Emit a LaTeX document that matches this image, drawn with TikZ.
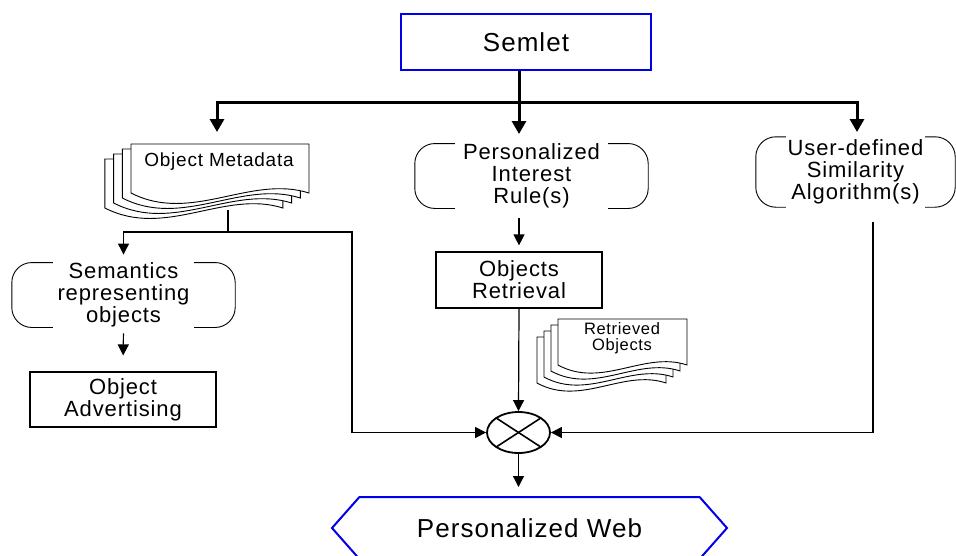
\documentclass[tikz,border=0pt]{standalone}
\usepackage{fontspec}
\setmainfont{Liberation Sans}[LetterSpace=4]
\usetikzlibrary{arrows.meta,shapes.geometric,shapes.symbols,calc}
\definecolor{boxblue}{RGB}{0,0,235}

% one paper sheet with a wavy lower edge: x y width height wave
\newcommand\docsheet[5]{%
  \filldraw[docline] (#1,#2) -- ({#1+#3},#2) -- ({#1+#3},{#2+#4})
    .. controls ({#1+0.67*#3},{#2+#4-0.6*#5}) and ({#1+0.34*#3},{#2+#4+#5}) .. (#1,{#2+#4}) -- cycle;}

% open brackets round a node: node, straight part, corner radius
\newcommand\bracketpair[3]{%
  \draw[brkline,rounded corners=#3] ([xshift=#2]#1.north west) -- (#1.north west) -- (#1.south west) -- ([xshift=#2]#1.south west);
  \draw[brkline,rounded corners=#3] ([xshift=-#2]#1.north east) -- (#1.north east) -- (#1.south east) -- ([xshift=-#2]#1.south east);}

\begin{document}
\begin{tikzpicture}[x=1pt,y=-1pt,
  txt/.style={font=\fontsize{22}{22}\selectfont, align=center, inner sep=0pt},
  plainbox/.style={txt, draw, line width=1.2pt},
  bluebox/.style={draw=boxblue, line width=2pt, inner sep=0pt},
  docline/.style={draw=black, fill=white, line width=0.9pt},
  brkline/.style={line width=0.9pt},
  arr/.style={line width=1.2pt, -{Triangle[length=11pt,width=11pt]}},
  bus/.style={line width=3pt},
  busarr/.style={bus, -{Triangle[length=13pt,width=14pt]}},
  lbl/.style={font=\fontsize{#1}{#1}\selectfont, align=center, inner sep=0pt}
]
\useasboundingbox (0,0) rectangle (956,555);
\clip (0,0) rectangle (956,555);

% top block
\node[bluebox, minimum width=250pt, minimum height=56pt, font=\fontsize{26}{26}\selectfont] (semlet) at (526,42) {Semlet};

% branch nodes
\node[txt, minimum width=233pt, minimum height=62pt] (rules) at (531.5,176) {Personalized\\Interest\\Rule(s)};
\node[txt, minimum width=199pt, minimum height=70pt] (sim) at (855.5,172) {User-defined\\Similarity\\Algorithm(s)};
\node[txt, minimum width=223pt, minimum height=64pt] (sem) at (123.5,295) {Semantics\\representing\\objects};
\node[plainbox, minimum width=186pt, minimum height=55pt] (adv) at (123,399.5) {Object\\Advertising};
\node[plainbox, minimum width=166pt, minimum height=56pt] (retr) at (519,280) {Objects\\Retrieval};

\bracketpair{rules}{40pt}{20pt}
\bracketpair{sim}{30pt}{20pt}
\bracketpair{sem}{41pt}{20pt}

% stacked sheets: object metadata
\foreach \k in {3,2,1,0}{\docsheet{131-8.7*\k}{144+5*\k}{178}{49}{31}}
\node[lbl=19] (meta) at (219,162) {Object Metadata};

% stacked sheets: retrieved objects
\foreach \k in {3,2,1,0}{\docsheet{558-7*\k}{319+6*\k}{129}{46}{24}}
\node[lbl=16.5] (found) at (622,338) {Retrieved\\Objects};

% combining junction
\node[ellipse, draw, line width=1.8pt, minimum width=63pt, minimum height=41pt, inner sep=0pt] (mix) at (518.5,432.5) {};
\draw[line width=1.6pt] ($(mix.center)+(-22.3,-14.5)$) -- ($(mix.center)+(22.3,14.5)$);
\draw[line width=1.6pt] ($(mix.center)+(22.3,-14.5)$) -- ($(mix.center)+(-22.3,14.5)$);

% result
\node[signal, signal to=west and east, signal pointer angle=97, draw=boxblue, line width=2pt,
      minimum width=395pt, minimum height=62pt, inner sep=0pt,
      font=\fontsize{26}{26}\selectfont] (web) at (529.5,528) {Personalized Web};

% fan-out from the top block
\coordinate (busM) at (519,102.5);
\coordinate (tipL) at (217,132);
\coordinate (tipM) at (519,134);
\coordinate (tipR) at (857,132);
\draw[busarr] (semlet.south -| busM) -- (tipM);
\draw[busarr] (busM) -| (tipL);
\draw[busarr] (busM) -| (tipR);

% metadata outputs
\coordinate (metaout) at (228,210);
\coordinate (j1) at (228,232);
\coordinate (c2) at (352,232);
\draw[line width=1.2pt] (metaout) -- (j1);
\draw[arr, shorten >=8pt] (j1) -| (sem.north);
\draw[arr] (j1) -- (c2) |- (mix.west);

\draw[arr, shorten <=6pt, shorten >=16pt] (sem.south) -- (adv.north);
\draw[arr, shorten <=10pt, shorten >=6pt] (rules.south -| retr.north) -- (retr.north);
\draw[arr] (retr.south) -- (mix.north);

% similarity algorithm into the junction
\coordinate (simout) at (873,222);
\draw[arr] (simout) |- (mix.east);

\draw[arr, shorten >=9pt] (mix.south) -- (mix.south |- web.north);
\end{tikzpicture}
\end{document}
